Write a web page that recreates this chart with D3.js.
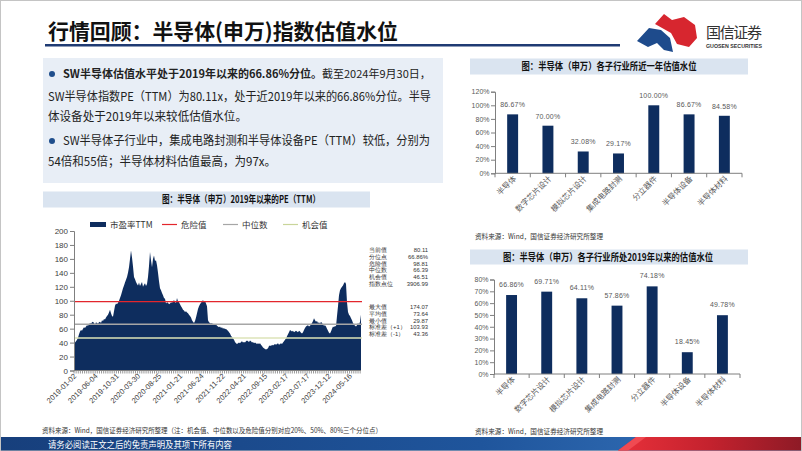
<!DOCTYPE html>
<html><head><meta charset="utf-8">
<script src="https://cdn.jsdelivr.net/npm/d3@7"></script>
<style>body{margin:0;background:#fff}svg{display:block}</style>
</head><body><svg id="c" width="802" height="451"></svg>
<script>
// ---------- DATA ----------
const peValues = [
41,40,42,44,47,52,
56,58,57,60,62,61,63,65,64,66,
68,67,69,70,68,66,69,68,67,69,
70,68,72,71,74,73,76,78,80,83,
87,82,78,77,85,93,96,95,97,100,
104,108,113,118,122,126,130,134,140,148,
160,172,162,149,134,131,127,124,122,126,
121,124,127,120,123,125,121,124,134,150,
170,158,148,160,165,157,158,151,140,128,
118,115,111,108,104,103,96,98,97,95,
96,98,97,99,101,98,97,104,99,98,
95,92,90,87,86,84,85,83,82,80,
78,76,72,70,68,71,76,82,88,92,
95,97,99,101,98,100,96,92,72,69,
68,67,68,66,67,65,66,64,63,62,
63,61,62,60,61,59,60,58,57,55,
53,50,48,46,44,41,39,38,39,40,
39,41,42,40,41,40,42,43,42,41,
43,42,40,41,39,40,39,38,39,38,
39,37,35,33,32,31,30,31,32,35,
36,35,37,36,37,38,37,38,39,37,
38,39,38,40,42,44,46,49,52,55,
58,57,56,57,55,56,57,56,55,57,
56,54,53,55,58,61,63,64,65,63,
64,66,68,71,75,72,70,71,68,69,
67,70,68,66,64,65,63,60,57,54,
53,56,60,63,62,64,63,78,92,108,
115,118,120,122,125,127,124,98,84,80,
78,75,72,68,66,64,63,65,68,66,
70,80];
const peTradingDays = 1355;
const peTickEvery = 100;
const peTickLabels = ["2019-01-02","2019-06-04","2019-10-31","2020-03-30","2020-08-25","2021-01-21","2021-06-24","2021-11-22","2022-04-21","2022-09-15","2023-02-17","2023-07-17","2023-12-12","2024-05-16"];
const peYTicks = [0,20,40,60,80,100,120,140,160,180,200];
const refNames = ["危险值","中位数","机会值"];
const refValues = [98.81, 66.39, 46.51];
const refColors = ["#E3262C","#A6A6A6","#DCE3B8"];
const statLabels1 = ["当前值","分位点","危险值","中位数","机会值","指数点位"];
const statValues1 = ["80.11","66.86%","98.81","66.39","46.51","3906.99"];
const statLabels2 = ["最大值","平均值","最小值","标准差（+1）","标准差（-1）"];
const statValues2 = ["174.07","73.64","29.87","103.93","43.36"];

const subIndustries = ["半导体","数字芯片设计","模拟芯片设计","集成电路封测","分立器件","半导体设备","半导体材料"];
const pctOneYear = [86.67,70.00,32.08,29.17,100.00,86.67,84.58];
const pctSince2019 = [66.86,69.71,64.11,57.86,74.18,18.45,49.78];
const pctTicksTop = [0,20,40,60,80,100,120];
const pctTicksBottom = [0,10,20,30,40,50,60,70,80];

// ---------- SETUP ----------
const svg = d3.select("#c");
const CJK = "'Noto Sans CJK SC','Noto Sans',sans-serif";
const LAT = "'Liberation Sans',Arial,sans-serif";
const NAVY = "#0E2D5E";

svg.append("rect").attr("x",0.5).attr("y",0.5).attr("width",801).attr("height",450)
  .attr("fill","#fff").attr("stroke","#c4c4c4");

// title
svg.append("text").attr("x",48).attr("y",39).attr("font-family",CJK).attr("font-weight",700)
  .attr("font-size",21).attr("fill","#111").attr("textLength",350).attr("lengthAdjust","spacingAndGlyphs")
  .text("行情回顾：半导体(申万)指数估值水位");
svg.append("rect").attr("x",45).attr("y",44).attr("width",575).attr("height",2.5).attr("fill","#1F3B73");

// logo
const logo = svg.append("g");
logo.append("path").attr("d","M655,24 L664,14 L672,20 L684,17 L695,25 L697,38 L689,47 L677,44 L671,33 Z").attr("fill","#D7262F");
logo.append("path").attr("d","M637,41 L649,28 L661,30 L670,38 L673,52 L664,50 L657,43 L648,47 Z").attr("fill","#1E4B8C");
logo.append("text").attr("x",706).attr("y",38).attr("font-family",CJK).attr("font-size",15)
  .attr("fill","#333").attr("textLength",56).text("国信证券");
logo.append("text").attr("x",706).attr("y",48).attr("font-family",LAT).attr("font-weight",700).attr("font-size",6)
  .attr("fill","#333").attr("textLength",56).attr("lengthAdjust","spacingAndGlyphs").text("GUOSEN SECURITIES");

// text box
svg.append("rect").attr("x",43).attr("y",58).attr("width",400).attr("height",125).attr("fill","#E8EEF6");
const tb = svg.append("g").attr("font-family",CJK).attr("font-size",12).attr("fill","#222");
[74,141].forEach(cy=>tb.append("circle").attr("cx",52).attr("cy",cy).attr("r",3).attr("fill","#1F4E8C"));
function tline(x,y,len,txt,bold){
  const t = tb.append("text").attr("x",x).attr("y",y).attr("font-weight",bold?700:400).text(txt);
  if(len) t.attr("textLength",len).attr("lengthAdjust","spacingAndGlyphs");
  return t;
}
tline(63,78,null,"SW半导体估值水平处于2019年以来的66.86%分位。",true).attr("font-size",11);
tline(322,78,null,"截至2024年9月30日，",false).attr("font-size",11);
tline(48,101,383,"SW半导体指数PE（TTM）为80.11x，处于近2019年以来的66.86%分位。半导",false);
tline(48,121,199,"体设备处于2019年以来较低估值水位。",false);
tline(63,145,367,"SW半导体子行业中，集成电路封测和半导体设备PE（TTM）较低，分别为",false);
tline(48,166,228,"54倍和55倍；半导体材料估值最高，为97x。",false);

// ---------- LEFT CHART ----------
function titleBar(x,y,w,h,cx,txt,len){
  svg.append("rect").attr("x",x).attr("y",y).attr("width",w).attr("height",h).attr("fill","#DAE4F0");
  svg.append("text").attr("x",cx).attr("y",y+h/2+3.5).attr("text-anchor","middle").attr("font-family",CJK)
    .attr("font-weight",700).attr("font-size",10).attr("fill","#111").attr("textLength",len)
    .attr("lengthAdjust","spacingAndGlyphs").text(txt);
}
titleBar(43,191.5,327,16,241,"图：半导体（申万）2019年以来的PE（TTM）",158);

const x1 = d3.scaleLinear().domain([0,peTradingDays-1]).range([74,361]);
const y1 = d3.scaleLinear().domain([0,200]).range([370.5,231]);
const peData = peValues.map((v,i)=>({idx:i*(peTradingDays-1)/(peValues.length-1), v}));

svg.append("path").datum(peData)
  .attr("d", d3.area().x(d=>x1(d.idx)).y0(y1(0)).y1(d=>y1(d.v)))
  .attr("fill",NAVY);

refValues.forEach((v,i)=>{
  svg.append("line").attr("x1",x1(0)).attr("x2",x1(peTradingDays-1)+1).attr("y1",y1(v)).attr("y2",y1(v))
    .attr("stroke",refColors[i]).attr("stroke-width", i===0?1.3:1.4);
});

const yAx = svg.append("g").attr("transform","translate(74,0)")
  .call(d3.axisLeft(y1).tickValues(peYTicks).tickSize(4).tickPadding(2));
yAx.selectAll("path,line").attr("stroke","#7f7f7f");
yAx.selectAll("text").attr("font-family",LAT).attr("font-size",8).attr("fill","#404040");

// x axis
const xAxG = svg.append("g");
xAxG.append("line").attr("x1",74).attr("x2",361).attr("y1",y1(0)).attr("y2",y1(0)).attr("stroke","#7f7f7f");
d3.range(0,peTradingDays,10).forEach(d=>{
  xAxG.append("line").attr("x1",x1(d)).attr("x2",x1(d)).attr("y1",y1(0)).attr("y2",y1(0)+3).attr("stroke","#7f7f7f").attr("stroke-width",0.8);
});
peTickLabels.forEach((lab,k)=>{
  const xx = x1(k*peTickEvery);
  xAxG.append("text").attr("transform",`translate(${xx+3},${y1(0)+6}) rotate(-45)`)
    .attr("text-anchor","end").attr("font-family",LAT).attr("font-size",7.5).attr("fill","#404040").text(lab);
});

// legend
const lg = svg.append("g").attr("font-family",CJK).attr("font-size",8.5).attr("fill","#333");
lg.append("rect").attr("x",90).attr("y",222).attr("width",16).attr("height",5).attr("fill",NAVY);
lg.append("text").attr("x",110).attr("y",227.5).text("市盈率TTM");
const legX = [162,223,283];
refNames.forEach((n,i)=>{
  lg.append("line").attr("x1",legX[i]).attr("x2",legX[i]+15).attr("y1",224.5).attr("y2",224.5)
    .attr("stroke",i===2?"#C9D59A":refColors[i]).attr("stroke-width",1.2);
  lg.append("text").attr("x",legX[i]+19).attr("y",227.5).text(n);
});

// stats
const st = svg.append("g").attr("font-family",LAT).attr("font-size",5.9).attr("fill","#333");
statLabels1.forEach((l,i)=>{
  st.append("text").attr("x",369).attr("y",252+i*6.8).text(l);
  st.append("text").attr("x",428).attr("y",252+i*6.8).attr("text-anchor","end").text(statValues1[i]);
});
statLabels2.forEach((l,i)=>{
  st.append("text").attr("x",369).attr("y",309+i*6.8).text(l);
  st.append("text").attr("x",428).attr("y",309+i*6.8).attr("text-anchor","end").text(statValues2[i]);
});

svg.append("text").attr("x",42).attr("y",433).attr("font-family",CJK).attr("font-size",7).attr("fill","#333")
  .attr("textLength",340).attr("lengthAdjust","spacingAndGlyphs")
  .text("资料来源：Wind，国信证券经济研究所整理（注：机会值、中位数以及危险值分别对应20%、50%、80%三个分位点）");

// ---------- RIGHT BAR CHARTS ----------
function barChart(cfg){
  const x = d3.scaleBand().domain(subIndustries).range([cfg.x0,cfg.x1]).padding(0);
  const y = d3.scaleLinear().domain([0,cfg.max]).range([cfg.y0,cfg.yTop]);
  const bw = x.bandwidth()*0.31;
  const g = svg.append("g");
  g.selectAll("rect.b").data(cfg.values).join("rect")
    .attr("x",(d,i)=>x(subIndustries[i])+x.bandwidth()/2-bw/2).attr("width",bw)
    .attr("y",d=>y(d)).attr("height",d=>y(0)-y(d)).attr("fill",NAVY);
  g.selectAll("text.v").data(cfg.values).join("text")
    .attr("x",(d,i)=>x(subIndustries[i])+x.bandwidth()/2).attr("y",d=>y(d)-cfg.labOff)
    .attr("text-anchor","middle").attr("font-family",LAT).attr("font-size",7).attr("fill","#595959")
    .attr("letter-spacing",0.2).text(d=>d.toFixed(2)+"%");
  const ya = g.append("g").attr("transform",`translate(${cfg.x0},0)`)
    .call(d3.axisLeft(y).tickValues(cfg.ticks).tickSize(4).tickPadding(1.5).tickFormat(d=>d+"%"));
  ya.selectAll("path,line").attr("stroke","#7f7f7f");
  ya.selectAll("text").attr("font-family",LAT).attr("font-size",7).attr("fill","#595959");
  g.append("line").attr("x1",cfg.x0).attr("x2",cfg.x1).attr("y1",y(0)).attr("y2",y(0)).attr("stroke","#7f7f7f");
  d3.range(subIndustries.length+1).forEach(i=>{
    const xx = cfg.x0 + i*x.bandwidth();
    g.append("line").attr("x1",xx).attr("x2",xx).attr("y1",y(0)).attr("y2",y(0)+4).attr("stroke","#7f7f7f");
  });
  subIndustries.forEach(c=>{
    g.append("text").attr("transform",`translate(${x(c)+x.bandwidth()/2+4},${y(0)+6}) rotate(-45)`)
      .attr("text-anchor","end").attr("font-family",CJK).attr("font-size",7.8).attr("fill","#595959").text(c);
  });
}
titleBar(470,58.5,278,16,609,"图：半导体（申万）各子行业所近一年估值水位",175);
barChart({x0:495,x1:742,y0:173.3,yTop:91.7,max:120,values:pctOneYear,ticks:pctTicksTop,labOff:7});
svg.append("text").attr("x",475).attr("y",239).attr("font-family",CJK).attr("font-size",7).attr("fill","#333")
  .attr("textLength",128).attr("lengthAdjust","spacingAndGlyphs").text("资料来源：Wind，国信证券经济研究所整理");

titleBar(470,249.5,278,15,608,"图：半导体（申万）各子行业所处2019年以来的估值水位",210);
barChart({x0:494,x1:740,y0:374,yTop:279.5,max:80,values:pctSince2019,ticks:pctTicksBottom,labOff:8});
svg.append("text").attr("x",475).attr("y",434).attr("font-family",CJK).attr("font-size",7).attr("fill","#333")
  .attr("textLength",128).attr("lengthAdjust","spacingAndGlyphs").text("资料来源：Wind，国信证券经济研究所整理");

// ---------- FOOTER ----------
const defs = svg.append("defs");
const gb = defs.append("linearGradient").attr("id","gb");
gb.append("stop").attr("offset","0").attr("stop-color","#173F7C");
gb.append("stop").attr("offset","0.6").attr("stop-color","#1F559C");
gb.append("stop").attr("offset","1").attr("stop-color","#3A78C0");
const gr = defs.append("linearGradient").attr("id","gr");
gr.append("stop").attr("offset","0").attr("stop-color","#E8303A");
gr.append("stop").attr("offset","0.5").attr("stop-color","#C4222E");
gr.append("stop").attr("offset","1").attr("stop-color","#8E1A26");
svg.append("rect").attr("x",1).attr("y",437).attr("width",800).attr("height",13.5).attr("fill","url(#gb)");
svg.append("path").attr("d","M636,437 L801,437 L801,450.5 L618,450.5 Z").attr("fill","url(#gr)");
svg.append("path").attr("d","M636,437 L646,437 L628,450.5 L618,450.5 Z").attr("fill","#F04A52");
svg.append("text").attr("x",48).attr("y",447.5).attr("font-family",CJK).attr("font-size",9).attr("fill","#fff")
  .attr("textLength",184).attr("lengthAdjust","spacingAndGlyphs").text("请务必阅读正文之后的免责声明及其项下所有内容");
</script></body></html>
